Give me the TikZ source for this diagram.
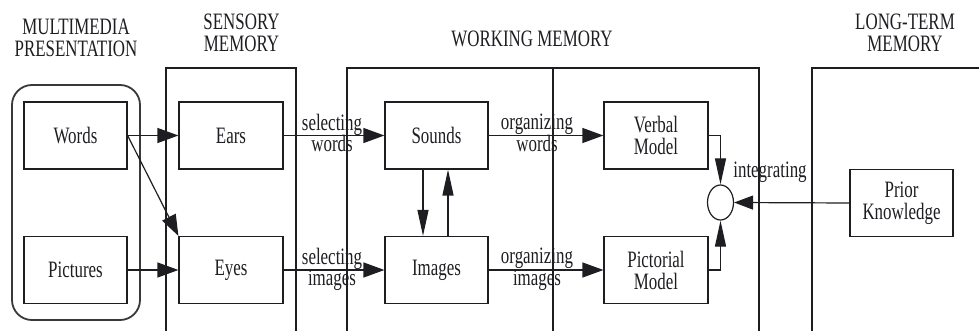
\documentclass[tikz,border=0pt]{standalone}
\usepackage{fontspec}
\setmainfont{Liberation Serif}[FakeStretch=0.72]
\usetikzlibrary{arrows.meta,shapes.geometric}
\newcommand\dfont{\fontsize{23.5}{22}\selectfont}
\definecolor{ink}{HTML}{1E1E22}
\tikzset{
  box/.style={draw=ink, line width=1.2pt, minimum width=103pt, minimum height=67pt, inner sep=0pt, align=center, font=\dfont, text=ink},
  lbl/.style={anchor=base, inner sep=0pt, font=\dfont, text=ink},
  frame/.style={draw=ink, line width=1.2pt},
  conn/.style={draw=ink, line width=1.2pt},
  harrow/.style={conn, -{Triangle[length=21pt,width=15pt]}},
  varrow/.style={conn, -{Triangle[length=26pt,width=11pt]}},
}
\begin{document}
\begin{tikzpicture}[x=1pt,y=-1pt]
\useasboundingbox (0,0) rectangle (979,331);
% titles
\node[lbl] (t1a) at (76,35) {MULTIMEDIA};
\node[lbl] (t1b) at (76,57) {PRESENTATION};
\node[lbl] (t2a) at (241.5,30) {SENSORY};
\node[lbl] (t2b) at (241.5,52) {MEMORY};
\node[lbl] (t3) at (532,47) {WORKING MEMORY};
\node[lbl] (t4a) at (905,30) {LONG-TERM};
\node[lbl] (t4b) at (905,52) {MEMORY};
% frames
\draw[line width=1.8pt, gray!45!black, rounded corners=20pt] (12,85) rectangle (140,320);
\draw[frame] (166,331) -- (166,68) -- (296,68) -- (296,331);
\draw[frame] (347,331) -- (347,68) -- (759,68) -- (759,331);
\draw[frame] (553,68) -- (553,331);
\draw[frame] (812,331) -- (812,68) -- (979,68);
% boxes
\node[box] (words) at (75.5,135.5) {Words};
\node[box] (pictures) at (75.5,270) {Pictures};
\node[box, minimum width=104pt] (ears) at (231,135.5) {Ears};
\node[box, minimum width=104pt] (eyes) at (231,270) {Eyes};
\node[box] (sounds) at (436.5,135.5) {Sounds};
\node[box] (images) at (436.5,270) {Images};
\node[box, minimum width=104pt] (verbal) at (656,135.5) {Verbal\\Model};
\node[box, minimum width=104pt] (pictorial) at (656,270) {Pictorial\\Model};
\node[box] (prior) at (901.5,203) {Prior\\Knowledge};
\node[draw=ink, ellipse, line width=1.2pt, minimum width=26pt, minimum height=35pt, inner sep=0pt] (circ) at (720.5,202.5) {};
% connectors
\draw[harrow] (words.east) -- (ears.west);
\draw[harrow] (words.east) -- (eyes.north west);
\draw[harrow] (pictures.east) -- (eyes.west);
\draw[harrow] (ears.east) -- (sounds.west);
\draw[harrow] (eyes.east) -- (images.west);
\draw[harrow] (sounds.east) -- (verbal.west);
\draw[harrow] (images.east) -- (pictorial.west);
\draw[varrow] ([xshift=-13.5pt]sounds.south) -- ([xshift=-13.5pt]images.north);
\draw[varrow] ([xshift=11.5pt]images.north) -- ([xshift=11.5pt]sounds.south);
\draw[varrow] (verbal.east) -| (circ.north);
\draw[varrow] (pictorial.east) -| (circ.south);
\draw[conn, -{Triangle[length=19pt,width=14pt]}] (prior.west) -- (circ.east);
% labels
\node[lbl] (sw1) at (332,131) {selecting};
\node[lbl] (sw2) at (332,152) {words};
\node[lbl] (si1) at (332,264) {selecting};
\node[lbl] (si2) at (332,285) {images};
\node[lbl] (ow1) at (537,130) {organizing};
\node[lbl] (ow2) at (537,152) {words};
\node[lbl] (oi1) at (537,263) {organizing};
\node[lbl] (oi2) at (537,285) {images};
\node[lbl] (integ) at (770,178) {integrating};
\end{tikzpicture}
\end{document}
